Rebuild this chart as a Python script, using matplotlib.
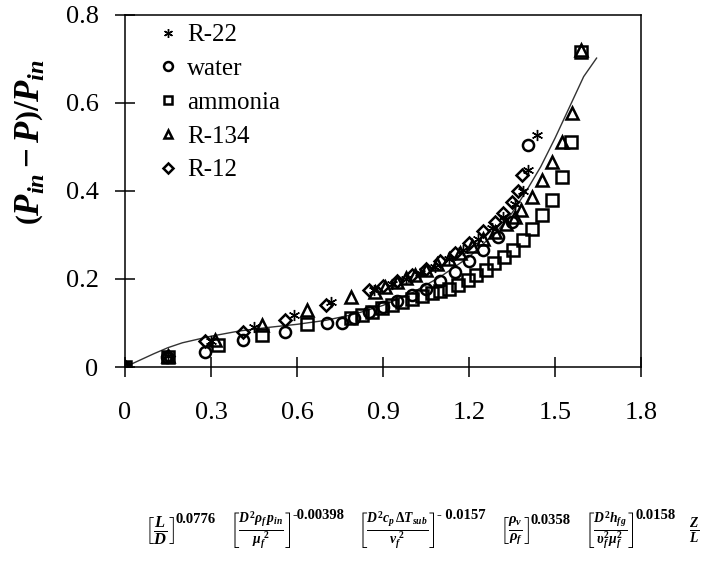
import matplotlib
matplotlib.use("Agg")
import matplotlib.pyplot as plt

plt.rcParams["font.family"] = ["Liberation Serif", "DejaVu Serif"]
plt.rcParams["mathtext.fontset"] = "custom"
plt.rcParams["mathtext.rm"] = "Liberation Serif:bold"
plt.rcParams["mathtext.it"] = "Liberation Serif:italic:bold"
plt.rcParams["mathtext.bf"] = "Liberation Serif:bold"

# data
r22_x = [0, 0.15, 0.30, 0.45, 0.59, 0.72, 0.87, 0.93, 0.98, 1.03, 1.08, 1.13, 1.18, 1.23, 1.28, 1.32, 1.36, 1.39, 1.407, 1.436]
r22_y = [0, 0.024, 0.06, 0.09, 0.118, 0.148, 0.175, 0.188, 0.20, 0.213, 0.228, 0.245, 0.265, 0.29, 0.315, 0.34, 0.37, 0.40, 0.448, 0.527]

water_x = [0, 0.145, 0.279, 0.413, 0.558, 0.703, 0.756, 0.80, 0.85, 0.90, 0.95, 1.0, 1.05, 1.1, 1.15, 1.2, 1.25, 1.3, 1.35, 1.407]
water_y = [0, 0.022, 0.035, 0.061, 0.08, 0.099, 0.10, 0.112, 0.125, 0.137, 0.15, 0.163, 0.178, 0.195, 0.215, 0.24, 0.265, 0.295, 0.33, 0.505]

ammonia_x = [0, 0.15, 0.326, 0.477, 0.634, 0.79, 0.826, 0.86, 0.895, 0.93, 0.965, 1.0, 1.035, 1.07, 1.10,
             1.131, 1.16, 1.195, 1.224, 1.259, 1.288, 1.323, 1.352, 1.387, 1.42, 1.456, 1.491, 1.526, 1.555, 1.59]
ammonia_y = [0, 0.022, 0.05, 0.073, 0.097, 0.112, 0.118, 0.126, 0.133, 0.141, 0.148, 0.155, 0.162, 0.168, 0.172,
             0.177, 0.186, 0.198, 0.209, 0.22, 0.236, 0.25, 0.266, 0.289, 0.314, 0.345, 0.38, 0.432, 0.512, 0.717]

r134_x = [0, 0.15, 0.315, 0.477, 0.634, 0.79, 0.872, 0.907, 0.948, 0.98, 1.01, 1.05, 1.09, 1.13, 1.17, 1.21,
          1.25, 1.29, 1.33, 1.36, 1.381, 1.42, 1.456, 1.491, 1.526, 1.561, 1.59]
r134_y = [0, 0.025, 0.061, 0.095, 0.13, 0.16, 0.171, 0.182, 0.194, 0.202, 0.21, 0.221, 0.233, 0.246, 0.26, 0.274,
          0.29, 0.306, 0.325, 0.342, 0.357, 0.387, 0.425, 0.467, 0.512, 0.577, 0.72]

r12_x = [0, 0.15, 0.28, 0.413, 0.558, 0.70, 0.85, 0.90, 0.95, 1.0, 1.05, 1.1, 1.15, 1.2, 1.25, 1.29, 1.32, 1.35, 1.37, 1.384]
r12_y = [0, 0.025, 0.058, 0.08, 0.106, 0.141, 0.175, 0.185, 0.196, 0.208, 0.222, 0.24, 0.26, 0.282, 0.308, 0.33, 0.35, 0.375, 0.40, 0.436]

fit_x = [0, 0.05, 0.1, 0.15, 0.2, 0.3, 0.4, 0.5, 0.6, 0.7, 0.8, 0.9, 1.0, 1.1, 1.2, 1.3, 1.35, 1.4, 1.45, 1.5, 1.55, 1.6, 1.645]
fit_y = [0, 0.015, 0.03, 0.044, 0.055, 0.07, 0.082, 0.09, 0.097, 0.106, 0.12, 0.14, 0.168, 0.205, 0.25, 0.31, 0.35,
         0.40, 0.455, 0.52, 0.59, 0.66, 0.702]

x_ticks = [0, 0.3, 0.6, 0.9, 1.2, 1.5, 1.8]
x_labels = ["0", "0.3", "0.6", "0.9", "1.2", "1.5", "1.8"]
y_ticks = [0, 0.2, 0.4, 0.6, 0.8]
y_labels = ["0", "0.2", "0.4", "0.6", "0.8"]

# x-axis group expression: bracket terms and their exponents
groups = [r"$\left[\frac{L}{D}\right]$",
          r"$\left[\frac{D^2\rho_f\,p_{in}}{\mu_f^{\ 2}}\right]$",
          r"$\left[\frac{D^2c_p\,\Delta T_{sub}}{v_f^{\ 2}}\right]$",
          r"$\left[\frac{\rho_v}{\rho_f}\right]$",
          r"$\left[\frac{D^2h_{fg}}{\upsilon_f^2\mu_f^2}\right]$",
          r"$\frac{Z}{L}$"]
exponents = ["0.0776", "-0.00398", "- 0.0157", "0.0358", "0.0158", ""]
group_sizes = [17, 14, 14, 15, 14, 14]

fig = plt.figure(figsize=(7.23, 5.61), dpi=100)
ax = fig.add_axes([0.1729, 0.3458, 0.7137, 0.6275])

ax.plot(fit_x, fit_y, color="#333333", lw=1.0, zorder=1)

mk = dict(linestyle="none", mfc="none", mec="black", ms=8, mew=1.8)
ax.plot(r22_x, r22_y, marker=(6, 2, 0), label="R-22", **dict(mk, mew=1.0))
ax.plot(water_x, water_y, marker="o", label="water", **mk)
ax.plot(ammonia_x, ammonia_y, marker="s", label="ammonia", **mk)
ax.plot(r134_x, r134_y, marker="^", label="R-134", **mk)
ax.plot(r12_x, r12_y, marker="D", label="R-12", **dict(mk, ms=6.5))

ax.set_xlim(0, 1.8)
ax.set_ylim(0, 0.8)
ax.set_xticks(x_ticks)
ax.set_xticklabels(x_labels)
ax.set_yticks(y_ticks)
ax.set_yticklabels(y_labels)
ax.tick_params(direction="inout", length=14, width=1.1, labelsize=19, top=False, right=False)
ax.tick_params(axis="x", pad=18)
ax.tick_params(axis="y", pad=12)
for s in ax.spines.values():
    s.set_linewidth(1.1)

leg = ax.legend(loc="upper left", bbox_to_anchor=(0.04, 1.017), frameon=False, fontsize=18,
                handlelength=0.6, handletextpad=0.45, labelspacing=0.45, borderaxespad=0.2, markerscale=0.8)

fig.text(0.044, 0.747, r"$\left(P_{in}-P\right)/P_{in}$", rotation=90, fontsize=25,
         ha="center", va="center")

# lay the expression out piece by piece, then centre it
renderer = fig.canvas.get_renderer()
W, H = fig.bbox.width, fig.bbox.height
yc = 1 - 531 / 561
gap = 13
cur = 0.0
items = []
for g, e, fs in zip(groups, exponents, group_sizes):
    t = fig.text(cur / W, yc, g, fontsize=fs, ha="left", va="center")
    bb = t.get_window_extent(renderer)
    items.append(t)
    cur = bb.x1 + 1
    if e:
        te = fig.text(cur / W, (bb.y1 - 12) / H, e, fontsize=10.5, fontweight="bold", ha="left", va="bottom")
        be = te.get_window_extent(renderer)
        items.append(te)
        cur = be.x1 + gap
    else:
        cur += gap
total = cur - gap
shift = 422 - total / 2
for t in items:
    x, y = t.get_position()
    t.set_position((x + shift / W, y))

fig.savefig("out.png", dpi=100)
